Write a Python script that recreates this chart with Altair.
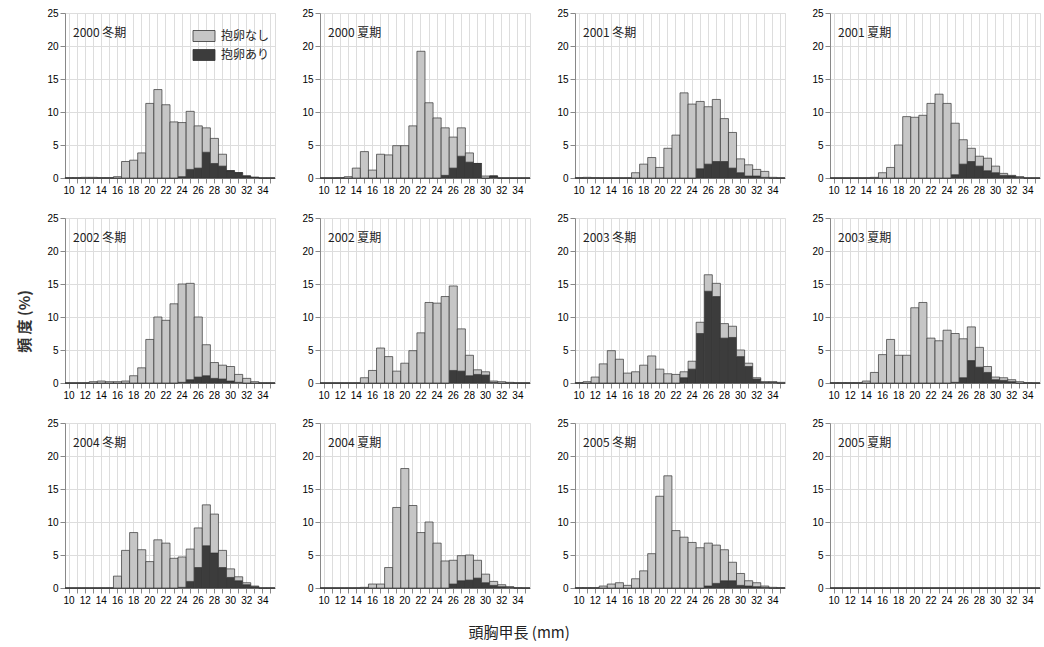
import altair as alt
import pandas as pd

bins = list(range(10, 36))
titles = ["2000 冬期", "2000 夏期", "2001 冬期", "2001 夏期",
          "2002 冬期", "2002 夏期", "2003 冬期", "2003 夏期",
          "2004 冬期", "2004 夏期", "2005 冬期", "2005 夏期"]

# total height of each bar (%), bins 10..35
total_2000w = [0.05,0.05,0.1,0.1,0.05,0.05,0.2,2.5,2.7,3.8,11.3,13.4,11.1,8.5,8.4,10.1,7.9,7.6,6.0,3.6,1.1,0.8,0.3,0.1,0,0]
ari_2000w   = [0,0,0,0,0,0,0,0,0,0,0,0,0,0,0.2,1.3,1.5,3.9,2.2,1.8,1.1,0.8,0.3,0.1,0,0]
total_2000s = [0,0,0.05,0.2,1.5,4.0,1.2,3.6,3.5,4.9,4.9,7.9,19.2,11.4,9.1,7.6,6.2,7.6,3.8,2.2,0.3,0.3,0,0,0,0]
ari_2000s   = [0,0,0,0,0,0,0,0,0,0,0,0,0,0,0,0.4,1.5,3.3,2.4,2.2,0,0.3,0,0,0,0]
total_2001w = [0.05,0.1,0.05,0,0,0,0,0.8,2.1,3.1,1.6,4.5,6.5,12.9,11.2,11.6,10.8,11.9,9.0,6.9,2.9,2.0,1.3,1.0,0.1,0]
ari_2001w   = [0,0,0,0,0,0,0,0,0,0,0,0,0,0,0,1.4,2.1,2.5,2.5,1.5,0.8,0.3,0.3,0.1,0,0]
total_2001s = [0,0,0,0,0,0.1,0.8,1.6,5.0,9.3,9.2,9.5,11.3,12.7,11.3,8.3,5.8,4.5,3.3,3.0,1.8,0.7,0.4,0.2,0,0]
ari_2001s   = [0,0,0,0,0,0,0,0,0,0,0,0,0,0,0,0.5,2.1,2.5,1.8,1.1,0.8,0.4,0.3,0.1,0,0]
total_2002w = [0,0,0,0.2,0.3,0.2,0.2,0.3,1.1,2.3,6.6,10.0,9.5,12.0,15.0,15.1,10.0,5.8,3.1,2.7,2.5,1.3,0.7,0.2,0,0]
ari_2002w   = [0,0,0,0,0,0,0,0,0,0,0,0,0,0,0.1,0.5,0.9,1.1,0.7,0.6,0.3,0.1,0,0,0,0]
total_2002s = [0,0,0,0,0,0.8,1.9,5.3,4.0,1.8,3.0,4.9,7.6,12.2,12.1,13.1,14.7,8.2,4.2,2.0,1.7,0.3,0.2,0.1,0,0]
ari_2002s   = [0,0,0,0,0,0,0,0,0,0,0,0,0,0,0,0,1.9,1.8,1.1,1.3,1.2,0.1,0,0,0,0]
total_2003w = [0.05,0.2,0.9,2.9,4.9,3.6,1.5,1.7,2.7,4.1,2.1,1.4,1.3,1.7,3.3,9.2,16.4,15.1,9.0,8.6,5.0,3.0,0.8,0.2,0.2,0.1]
ari_2003w   = [0,0,0,0,0,0,0,0,0,0,0,0,0,0.8,2.1,7.5,13.9,13.1,6.8,6.9,4.0,2.5,0.6,0.1,0.1,0]
total_2003s = [0.05,0.05,0.05,0.05,0.3,1.6,4.3,6.6,4.2,4.2,11.4,12.2,6.8,6.4,8.0,7.5,6.7,8.5,5.4,2.5,0.9,0.8,0.5,0.2,0.05,0]
ari_2003s   = [0,0,0,0,0,0,0,0,0,0,0,0,0,0,0,0.1,0.8,3.4,2.4,1.6,0.5,0.4,0.2,0,0,0]
total_2004w = [0,0,0,0,0,0,1.8,5.7,8.4,5.8,4.0,7.3,6.8,4.5,4.7,5.9,9.1,12.6,11.2,5.7,2.9,1.7,0.8,0.3,0,0]
ari_2004w   = [0,0,0,0,0,0,0,0,0,0,0,0,0,0,0.1,1.0,3.1,6.4,5.3,3.1,1.6,1.1,0.5,0.2,0,0]
total_2004s = [0,0,0,0,0,0.1,0.6,0.6,3.1,12.2,18.1,12.5,8.4,10.0,6.8,4.1,4.2,4.9,5.0,4.2,2.1,1.0,0.5,0.2,0.05,0]
ari_2004s   = [0,0,0,0,0,0,0,0,0,0,0,0,0,0,0,0,0.6,1.1,1.2,1.5,0.8,0.4,0.2,0.1,0,0]
total_2005w = [0.05,0.05,0.05,0.3,0.6,0.8,0.4,1.4,2.6,5.2,13.9,17.0,8.7,7.7,6.9,6.1,6.8,6.5,5.8,3.9,2.2,1.1,0.8,0.3,0.1,0.05]
ari_2005w   = [0,0,0,0,0,0,0,0,0,0,0,0,0,0,0,0,0.3,0.7,1.1,1.1,0.4,0.3,0.2,0.1,0,0]
total_2005s = [0]*26
ari_2005s   = [0]*26

totals = [total_2000w, total_2000s, total_2001w, total_2001s, total_2002w, total_2002s,
          total_2003w, total_2003s, total_2004w, total_2004s, total_2005w, total_2005s]
aris = [ari_2000w, ari_2000s, ari_2001w, ari_2001s, ari_2002w, ari_2002s,
        ari_2003w, ari_2003s, ari_2004w, ari_2004s, ari_2005w, ari_2005s]

kinds = ["抱卵なし", "抱卵あり"]
LIGHT = "#c6c6c6"
DARK = "#3c3c3c"
FONT = "Liberation Sans, Noto Sans CJK JP"
JFONT = "Noto Sans CJK JP"


def make_panel(idx):
    rows = []
    for b, t, a in zip(bins, totals[idx], aris[idx]):
        rows.append({"bin": b, "kind": "抱卵あり", "ord": 0, "v": a})
        rows.append({"bin": b, "kind": "抱卵なし", "ord": 1, "v": round(max(t - a, 0), 3)})
    df = pd.DataFrame(rows)

    if idx == 0:
        legend = alt.Legend(title=None, orient="none", legendX=133, legendY=17,
                            symbolType="M-2,-1H2V1H-2Z", symbolSize=121,
                            symbolStrokeColor="#333", symbolStrokeWidth=0.8,
                            labelOffset=11, labelFont=JFONT, labelFontSize=12,
                            labelColor="#222", rowPadding=3, padding=0)
    else:
        legend = None

    ytitle = "頻 度 (%)" if idx == 4 else None
    yaxis = alt.Axis(values=[0, 5, 10, 15, 20, 25], title=ytitle,
                     titleFont=JFONT, titleFontSize=15, titleFontWeight="bold",
                     titleColor="#333", titlePadding=14, titleY=103)

    bars = alt.Chart(df).mark_bar(stroke="#333333", strokeWidth=0.7).encode(
        x=alt.X("bin:O", scale=alt.Scale(domain=bins, paddingInner=0, paddingOuter=0),
                sort=None,
                axis=alt.Axis(title=None, labelAngle=0, grid=True,
                              labelExpr="datum.value % 2 == 0 ? datum.label : ''")),
        y=alt.Y("v:Q", stack="zero", scale=alt.Scale(domain=[0, 25], nice=False),
                axis=yaxis),
        color=alt.Color("kind:N", scale=alt.Scale(domain=kinds, range=[LIGHT, DARK]),
                        legend=legend),
        order=alt.Order("ord:Q"),
    )
    label = alt.Chart(pd.DataFrame({"t": [titles[idx]]})).mark_text(
        align="left", baseline="middle", fontSize=12, font=JFONT, color="#222"
    ).encode(x=alt.value(8), y=alt.value(20), text="t:N")
    return alt.layer(bars, label).properties(width=210, height=165)


panels = [make_panel(i) for i in range(12)]

chart = alt.concat(*panels, columns=4, spacing={"column": 25, "row": 16}).resolve_legend(
    color="independent"
).properties(
    title=alt.TitleParams("頭胸甲長 (mm)", orient="bottom", anchor="middle",
                          font=JFONT, fontSize=15, fontWeight="normal",
                          color="#222", offset=20, dx=-10),
    padding={"left": 17, "top": 7, "right": 2, "bottom": 5},
).configure_view(
    stroke="#777777", strokeWidth=1
).configure_axis(
    labelFont=FONT, labelFontSize=11, labelColor="#222",
    grid=True, gridColor="#7a7a7a", gridDash=[1, 3], gridWidth=0.8,
    ticks=False, labelPadding=3, domain=False
).configure(background="white")

chart.save("out.html", embed_options={"renderer": "svg", "actions": False})
